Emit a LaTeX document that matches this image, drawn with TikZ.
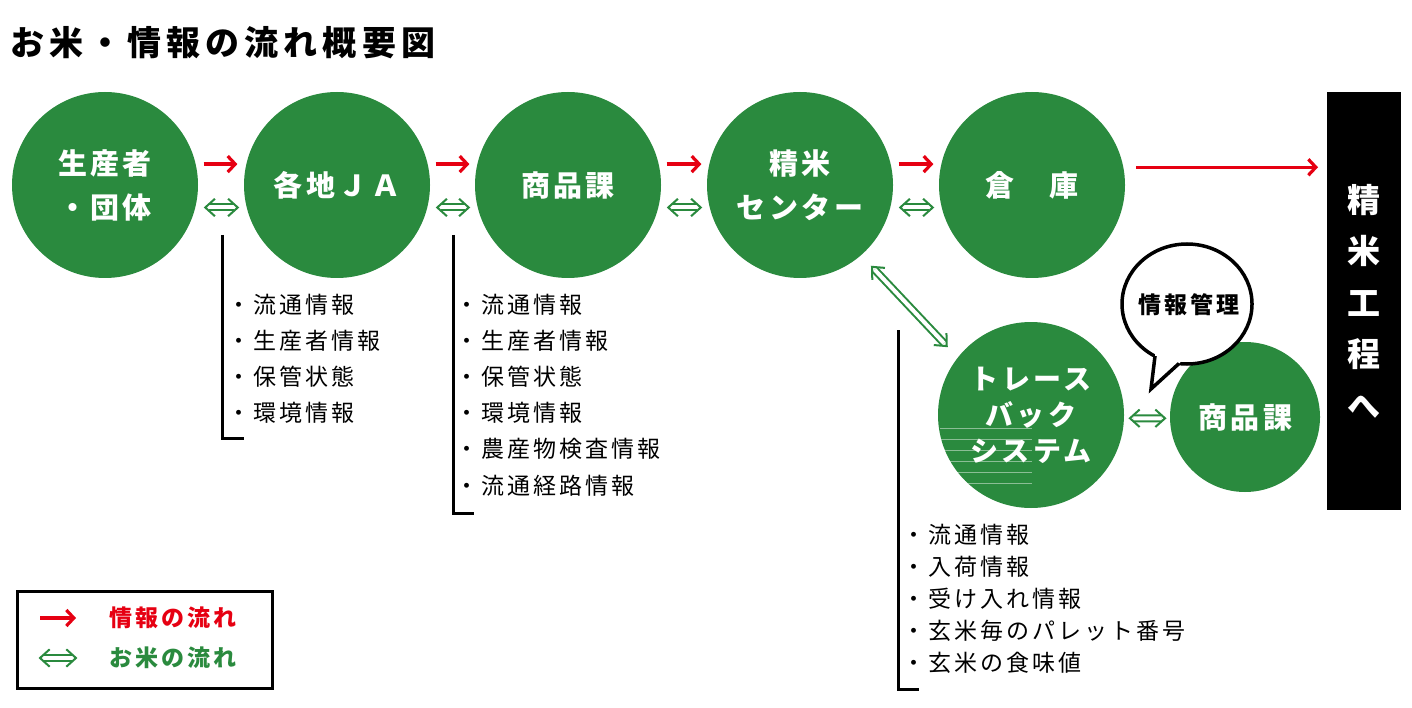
\documentclass[tikz,border=0pt]{standalone}
\usepackage{fontspec}
\setmainfont{Noto Sans CJK JP}
\newfontfamily\jpT[LetterSpace=15]{Noto Sans CJK JP}
\newfontfamily\jpC[LetterSpace=12]{Noto Sans CJK JP}
\newfontfamily\jpL[LetterSpace=13]{Noto Sans CJK JP}
\usetikzlibrary{arrows.meta,shapes.geometric,calc}
\definecolor{mygreen}{RGB}{42,138,62}
\definecolor{myred}{RGB}{230,0,18}
\tikzset{
  circ/.style={circle, fill=mygreen, minimum size=186pt, inner sep=0pt, outer sep=0pt,
    text=white, align=center, font=\jpC\bfseries\fontsize{29}{44}\selectfont},
  infoarrow/.style={draw=myred, line width=3.2pt, -{Straight Barb[length=7.5pt,width=16pt]}},
  riceshaft/.style={draw=mygreen, double=white, double distance=4pt, line width=2pt},
  ricechev/.style={draw=mygreen, line width=2pt, line join=miter},
  listtext/.style={anchor=west, inner sep=0pt, font=\jpL\fontsize{23}{23}\selectfont},
  bracket/.style={draw=black, line width=3pt}
}
% hollow double arrow from #1 to #2, shortened by #3 and #4
\newcommand\ricearr[4]{%
  \path ($#1!#3!#2$) coordinate (rP) ($#2!#4!#1$) coordinate (rQ);
  \draw[riceshaft] ($(rP)!4pt!(rQ)$) -- ($(rQ)!4pt!(rP)$);
  \draw[ricechev] ($(rP)!13pt!42:(rQ)$) -- (rP) -- ($(rP)!13pt!-42:(rQ)$);
  \draw[ricechev] ($(rQ)!13pt!42:(rP)$) -- (rQ) -- ($(rQ)!13pt!-42:(rP)$);
}
\begin{document}
\begin{tikzpicture}[x=1pt,y=-1pt]
\useasboundingbox (0,0) rectangle (1412,708);
\fill[white] (0,0) rectangle (1412,708);

% title
\node[anchor=west, inner sep=0pt, font=\jpT\bfseries\fontsize{34}{34}\selectfont] (title) at (10,43) {お米・情報の流れ概要図};

% main circles
\node[circ] (c1) at (105,185) {生産者\\・団体};
\node[circ] (c2) at (337,185) {各地ＪＡ};
\node[circ] (c3) at (568,185) {商品課};
\node[circ] (c4) at (800,185) {精米\\センター};
\node[circ] (c5) at (1032,185) {倉　庫};

% black box
\node[fill=black, minimum width=74pt, minimum height=418pt, inner sep=0pt, outer sep=0pt,
  text=white, align=center, font=\bfseries\fontsize{33}{51.5}\selectfont] (box) at (1364,301) {精\\米\\工\\程\\へ};

% trace back & small product circle
\node[circ, font=\jpC\bfseries\fontsize{28}{36}\selectfont] (tr) at (1031,415) {トレース\\バック\\システム};
\foreach \yy in {428,439,450,461,472,483}
  \draw[white, opacity=0.45, line width=0.7pt] (940,\yy) -- (1032,\yy);
\node[circ, minimum size=150pt] (sk) at (1245,417) {商品課};

% speech bubble
\node[ellipse, draw=black, line width=3.5pt, fill=white, minimum width=130pt, minimum height=120pt, inner sep=0pt] (bub) at (1187,304) {};
\coordinate (tip) at (1151,389);
\coordinate (b1) at (1155,356);
\coordinate (b2) at (1179,363.5);
\coordinate (b1e) at (1155.5,352);
\coordinate (b2e) at (1182,360.8);
\fill[white] (tip) -- (b1e) -- (b2e) -- cycle;
\draw[line width=3.5pt, line join=miter] (b1) -- (tip) -- (b2);
\node[font=\jpL\bfseries\fontsize{23}{23}\selectfont, inner sep=0pt] (bt) at (1189,305) {情報管理};

% info arrows
\draw[infoarrow, shorten <=8pt, shorten >=9pt] (c1.13) -- (c2.167);
\draw[infoarrow, shorten <=8pt, shorten >=8pt] (c2.13) -- (c3.167);
\draw[infoarrow, shorten <=8pt, shorten >=8pt] (c3.13) -- (c4.167);
\draw[infoarrow, shorten <=8pt, shorten >=8pt] (c4.13) -- (c5.167);
\draw[infoarrow, shorten <=13pt, shorten >=9pt] (c5.11) -- (c5.11 -| box.west);

% rice arrows
\ricearr{(c1.-14)}{(c2.194)}{10pt}{9pt}
\ricearr{(c2.-14)}{(c3.194)}{10pt}{9pt}
\ricearr{(c3.-14)}{(c4.194)}{10pt}{9pt}
\ricearr{(c4.-14)}{(c5.194)}{10pt}{9pt}
\ricearr{(c4.-49)}{(tr.142)}{16pt}{16pt}
\ricearr{(tr.-2)}{(sk.181)}{6pt}{5pt}

% list 1
\draw[bracket] (222,235) -- (222,438) -- (244,438);
\node[listtext] (l11) at (227,305) {・流通情報};
\node[listtext] (l12) at (227,341) {・生産者情報};
\node[listtext] (l13) at (227,377) {・保管状態};
\node[listtext] (l14) at (227,413) {・環境情報};

% list 2
\draw[bracket] (453,235) -- (453,513) -- (474,513);
\node[listtext] (l21) at (455,305) {・流通情報};
\node[listtext] (l22) at (455,341) {・生産者情報};
\node[listtext] (l23) at (455,377) {・保管状態};
\node[listtext] (l24) at (455,413) {・環境情報};
\node[listtext] (l25) at (455,449) {・農産物検査情報};
\node[listtext] (l26) at (455,486) {・流通経路情報};

% list 3
\draw[bracket] (898,330) -- (898,689) -- (919,689);
\node[listtext] (l31) at (902,535) {・流通情報};
\node[listtext] (l32) at (902,567) {・入荷情報};
\node[listtext] (l33) at (902,599) {・受け入れ情報};
\node[listtext] (l34) at (902,631) {・玄米毎のパレット番号};
\node[listtext] (l35) at (902,663) {・玄米の食味値};

% legend
\node[draw=black, line width=3pt, minimum width=255pt, minimum height=97pt, inner sep=0pt] (legend) at (144.5,639.5) {};
\coordinate (la1) at (40,618);
\coordinate (la2) at (76,618);
\coordinate (lb1) at (40,658);
\coordinate (lb2) at (76,658);
\draw[infoarrow] (la1) -- (la2);
\ricearr{(lb1)}{(lb2)}{0pt}{0pt}
\node[anchor=west, inner sep=0pt, text=myred, font=\jpL\bfseries\fontsize{23}{23}\selectfont] (lt1) at (109,618) {情報の流れ};
\node[anchor=west, inner sep=0pt, text=mygreen, font=\jpL\bfseries\fontsize{23}{23}\selectfont] (lt2) at (109,658) {お米の流れ};
\end{tikzpicture}
\end{document}
